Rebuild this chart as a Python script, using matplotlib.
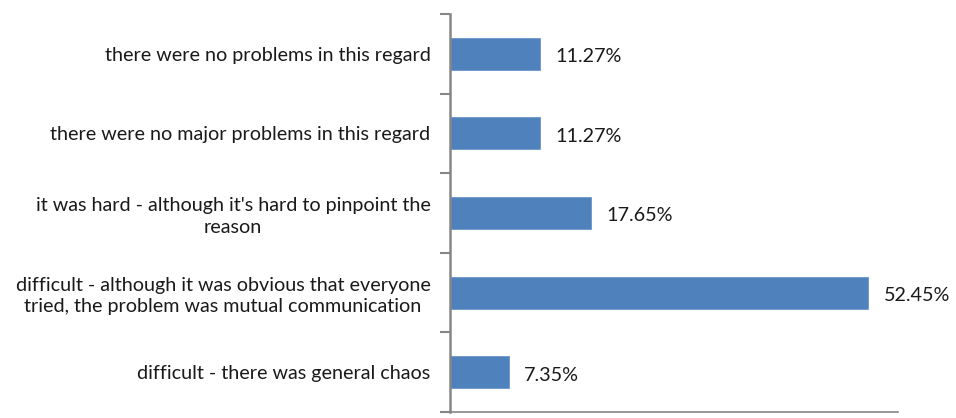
import numpy as np
import matplotlib.pyplot as plt

categories = [
    "there were no problems in this regard",
    "there were no major problems in this regard",
    "it was hard - although it's hard to pinpoint the\nreason",
    "difficult - although it was obvious that everyone\ntried, the problem was mutual communication",
    "difficult - there was general chaos",
]
values = [11.27, 11.27, 17.65, 52.45, 7.35]

plt.rcParams['font.family'] = ['Lato', 'DejaVu Sans']

fig = plt.figure(figsize=(9.56, 4.18), dpi=100)
ax = fig.add_axes([450 / 956, 6 / 418, 448 / 956, 398 / 418])

n = len(categories)
pos = np.arange(n)[::-1] + 0.5
bars = ax.barh(pos, values, height=0.4, color='#4f81bd', edgecolor='#6b96cc', linewidth=0.6)

for b, v in zip(bars, values):
    ax.annotate(f"{v:.2f}%", (b.get_width(), b.get_y() + b.get_height() / 2),
                xytext=(11, -1), textcoords='offset points',
                va='center_baseline', ha='left', fontsize=14.2, color='#1a1a1a')

ax.set_xlim(0, 56.2)
ax.set_ylim(0, n)

# boundaries get the tick marks, centers carry the labels
ax.set_yticks(np.arange(n + 1))
ax.set_yticklabels([])
ax.set_yticks(pos, categories, minor=True)
for t in ax.get_yticklabels(minor=True):
    t.set_multialignment('center')
    t.set_linespacing(1.3)
ax.tick_params(axis='y', which='major', length=7, width=1.5, color='#868686', direction='out')
ax.tick_params(axis='y', which='minor', length=0, pad=14, labelsize=14.2, labelcolor='#1a1a1a')
ax.set_xticks([])

for side in ['top', 'right']:
    ax.spines[side].set_visible(False)
ax.spines['left'].set_color('#868686')
ax.spines['left'].set_linewidth(1.8)
ax.spines['bottom'].set_color('#868686')
ax.spines['bottom'].set_linewidth(1.2)

fig.savefig('out.png', dpi=100)
